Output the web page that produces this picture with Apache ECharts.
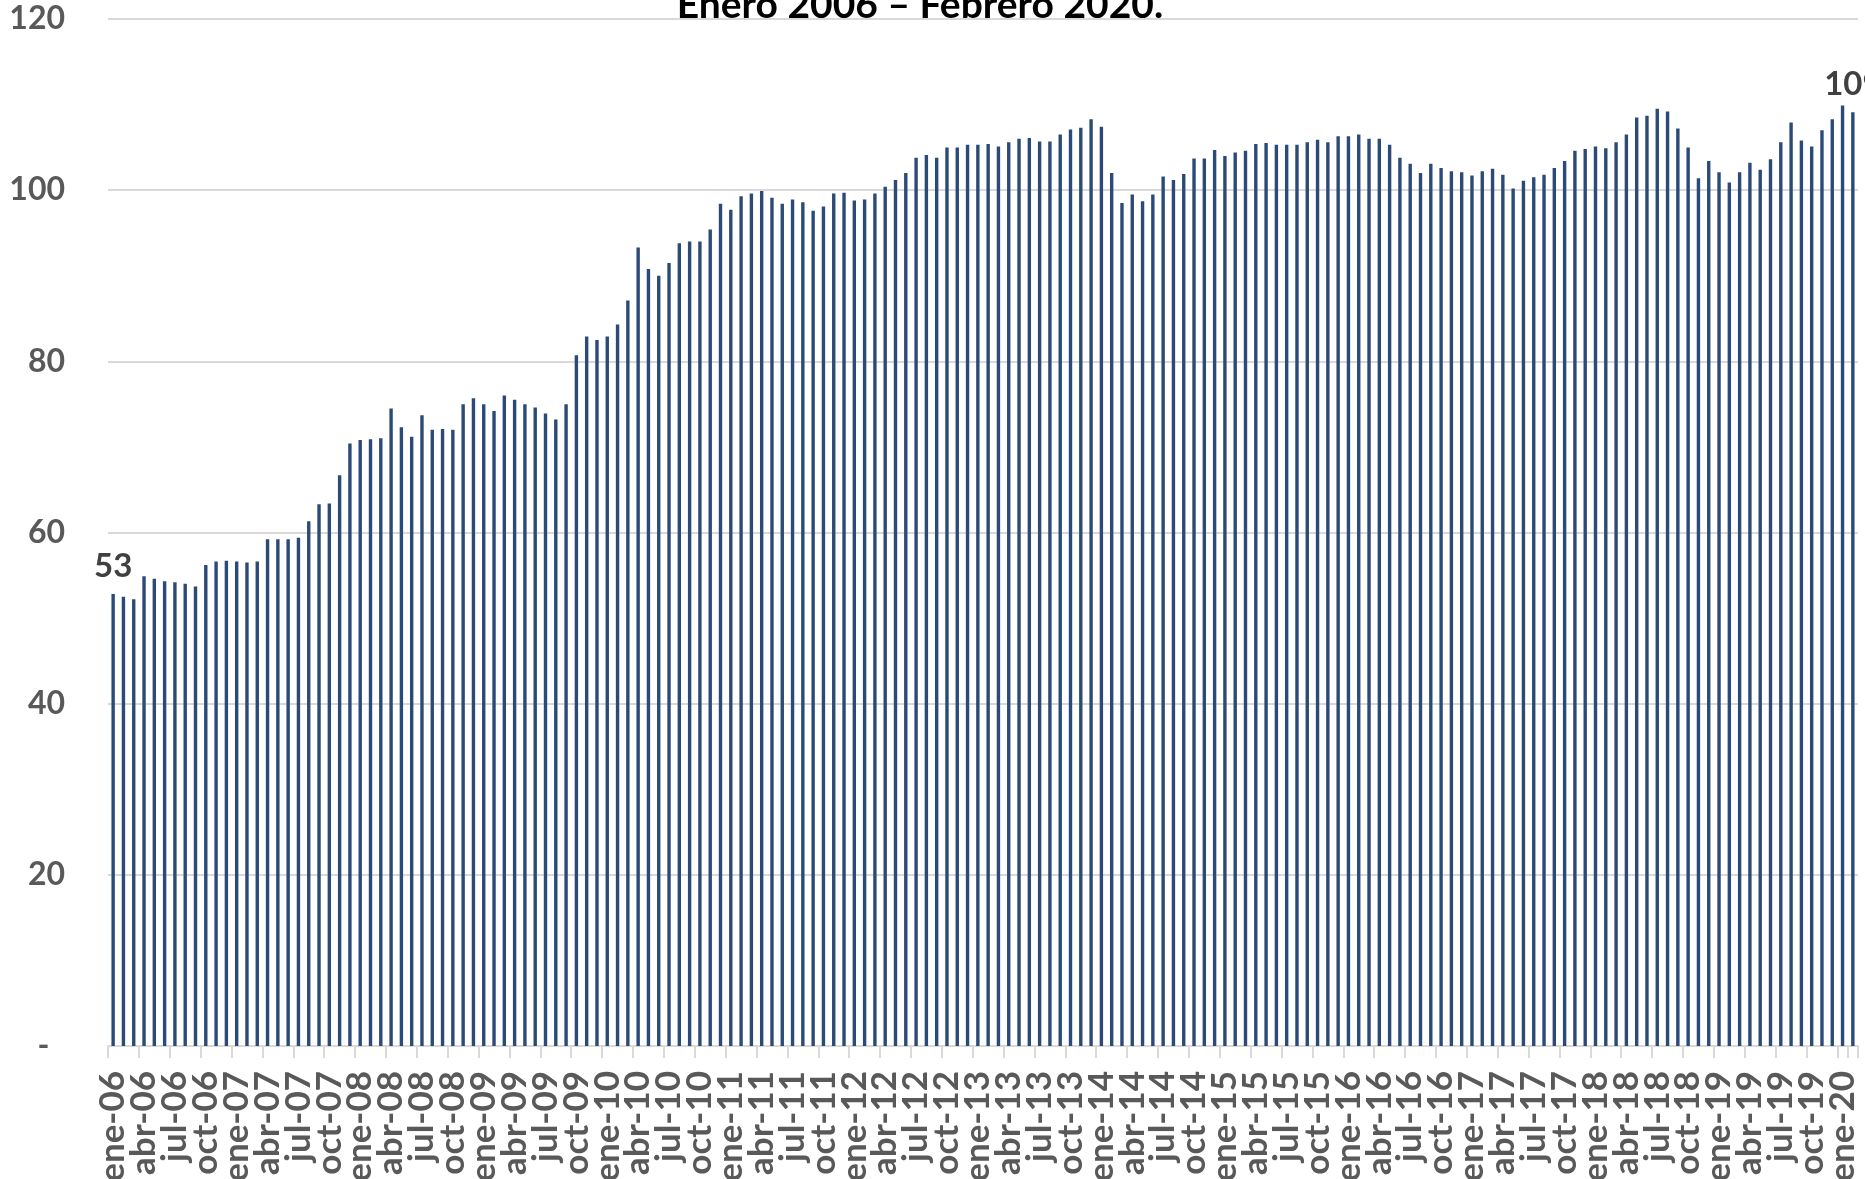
<!DOCTYPE html>
<html>
<head>
<meta charset="utf-8">
<script src="https://cdn.jsdelivr.net/npm/echarts@6/dist/echarts.min.js"></script>
<style>html,body{margin:0;padding:0;background:#fff;}#c{width:1865px;height:1179px;}</style>
</head>
<body>
<div id="c"></div>
<script>
const months = ['ene','feb','mar','abr','may','jun','jul','ago','sep','oct','nov','dic'];
const years = ['06','07','08','09','10','11','12','13','14','15','16','17','18','19','20'];
const values2006 = [52.8, 52.5, 52.2, 54.9, 54.6, 54.3, 54.2, 54.0, 53.7, 56.2, 56.6, 56.7];
const values2007 = [56.6, 56.5, 56.6, 59.2, 59.2, 59.2, 59.4, 61.3, 63.3, 63.4, 66.7, 70.4];
const values2008 = [70.8, 70.9, 71.0, 74.5, 72.3, 71.2, 73.7, 72.0, 72.1, 72.0, 75.0, 75.7];
const values2009 = [75.0, 74.2, 76.0, 75.5, 75.0, 74.6, 73.9, 73.2, 75.0, 80.7, 82.9, 82.5];
const values2010 = [82.9, 84.3, 87.1, 93.3, 90.8, 90.0, 91.5, 93.8, 94.0, 94.0, 95.4, 98.4];
const values2011 = [97.7, 99.3, 99.6, 99.9, 99.1, 98.4, 98.9, 98.6, 97.6, 98.1, 99.6, 99.7];
const values2012 = [98.8, 98.9, 99.6, 100.4, 101.2, 102.0, 103.8, 104.1, 103.8, 105.0, 105.0, 105.3];
const values2013 = [105.3, 105.4, 105.1, 105.6, 106.0, 106.1, 105.7, 105.7, 106.5, 107.1, 107.3, 108.3];
const values2014 = [107.4, 102.0, 98.5, 99.5, 98.7, 99.5, 101.6, 101.2, 101.9, 103.7, 103.7, 104.7];
const values2015 = [104.0, 104.4, 104.6, 105.4, 105.5, 105.3, 105.3, 105.3, 105.6, 105.9, 105.6, 106.3];
const values2016 = [106.3, 106.5, 106.0, 106.0, 105.3, 103.8, 103.1, 102.0, 103.1, 102.6, 102.2, 102.1];
const values2017 = [101.7, 102.2, 102.5, 101.8, 100.2, 101.1, 101.5, 101.8, 102.6, 103.4, 104.6, 104.8];
const values2018 = [105.1, 104.9, 105.6, 106.5, 108.5, 108.7, 109.5, 109.2, 107.2, 105.0, 101.4, 103.4];
const values2019 = [102.1, 100.9, 102.1, 103.2, 102.4, 103.6, 105.6, 107.9, 105.8, 105.1, 107.0, 108.3];
const values2020 = [109.9, 109.1];
const yTicks = [0, 20, 40, 60, 80, 100, 120];
const titleText = 'Enero 2006 – Febrero 2020.';

const values = [].concat(values2006, values2007, values2008, values2009, values2010,
  values2011, values2012, values2013, values2014, values2015, values2016, values2017,
  values2018, values2019, values2020);
const categories = [];
for (let i = 0; i < values.length; i++) {
  categories.push(months[i % 12] + '-' + years[Math.floor(i / 12)]);
}
const font = 'Lato, "Open Sans", sans-serif';
const data = values.map((v, i) => {
  const item = { value: v };
  if (i === 0 || i === values.length - 1) {
    item.label = { show: true };
  }
  return item;
});

const labelStyle = {
  rotate: 90,
  margin: 25,
  color: '#595959',
  fontFamily: font,
  fontWeight: 'bold',
  fontSize: 35,
  hideOverlap: false,
  showMinLabel: true,
  showMaxLabel: true
};

const chart = echarts.init(document.getElementById('c'), null, { renderer: 'canvas' });
chart.setOption({
  animation: false,
  backgroundColor: '#ffffff',
  graphic: [{
    type: 'text',
    x: 920,
    y: -14,
    style: {
      text: titleText,
      font: 'bold 39px ' + font,
      fill: '#000000',
      align: 'center',
      verticalAlign: 'top'
    }
  }],
  grid: { left: 108, right: 7, top: 19, bottom: 133, containLabel: false, outerBoundsMode: 'none' },
  xAxis: [{
    type: 'category',
    data: categories,
    boundaryGap: true,
    position: 'bottom',
    axisLine: { show: true, lineStyle: { color: '#d9d9d9', width: 2 } },
    axisTick: { show: true, interval: 2, length: 12, lineStyle: { color: '#d9d9d9', width: 2 } },
    axisLabel: Object.assign({ interval: (i) => i % 6 === 0 }, labelStyle),
    splitLine: { show: false }
  }, {
    type: 'category',
    data: categories,
    boundaryGap: true,
    position: 'bottom',
    offset: 0,
    axisLine: { show: false },
    axisTick: { show: false },
    axisLabel: Object.assign({ interval: (i) => i % 6 === 3 }, labelStyle),
    splitLine: { show: false }
  }],
  yAxis: {
    type: 'value',
    min: 0,
    max: 120,
    interval: 20,
    axisLine: { show: false },
    axisTick: { show: false },
    splitLine: { show: true, lineStyle: { color: '#d9d9d9', width: 2 } },
    axisLabel: {
      margin: 43,
      color: '#595959',
      fontFamily: font,
      fontWeight: 'bold',
      fontSize: 32,
      formatter: v => (v === 0 ? '-\u00a0\u00a0' : String(v))
    }
  },
  series: [{
    type: 'bar',
    xAxisIndex: 0,
    data: data,
    barWidth: 3.4,
    itemStyle: { color: '#2B4A78' },
    label: {
      show: false,
      position: 'top',
      distance: 11,
      color: '#404040',
      fontFamily: font,
      fontWeight: 'bold',
      fontSize: 33,
      formatter: p => Math.round(p.value)
    }
  }]
});
</script>
</body>
</html>
